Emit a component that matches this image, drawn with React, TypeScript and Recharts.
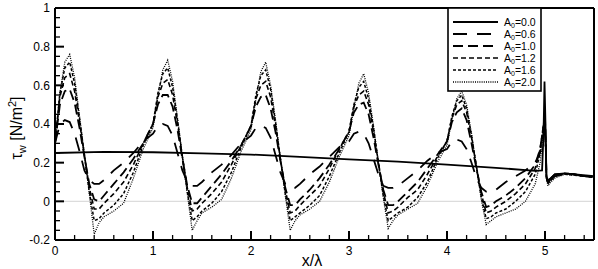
import React from 'react'
import { LineChart, Line, XAxis, YAxis, ReferenceLine } from 'recharts'

// x/lambda positions shared by the wavy series (A0 > 0)
const waveX = [
  0, 0.05, 0.1, 0.15, 0.2, 0.25, 0.3, 0.35, 0.4, 0.45, 0.5, 0.6, 0.7, 0.8, 0.9,
  1, 1.05, 1.1, 1.15, 1.2, 1.25, 1.3, 1.35, 1.4, 1.45, 1.5, 1.6, 1.7, 1.8, 1.9,
  2, 2.05, 2.1, 2.15, 2.2, 2.25, 2.3, 2.35, 2.4, 2.45, 2.5, 2.6, 2.7, 2.8, 2.9,
  3, 3.05, 3.1, 3.15, 3.2, 3.25, 3.3, 3.35, 3.4, 3.45, 3.5, 3.6, 3.7, 3.8, 3.9,
  4, 4.05, 4.1, 4.15, 4.2, 4.25, 4.3, 4.35, 4.4, 4.45, 4.5, 4.6, 4.7, 4.8, 4.9,
  4.95, 4.98, 5, 5.015, 5.03, 5.06, 5.1, 5.2, 5.3, 5.4, 5.5,
]

const a06 = [
  0.3, 0.4, 0.42, 0.41, 0.35, 0.26, 0.16, 0.11, 0.09, 0.09, 0.11, 0.16, 0.2, 0.25, 0.31,
  0.35, 0.39, 0.4, 0.39, 0.34, 0.25, 0.16, 0.1, 0.08, 0.08, 0.1, 0.15, 0.19, 0.24, 0.3,
  0.34, 0.38, 0.39, 0.38, 0.33, 0.24, 0.15, 0.09, 0.07, 0.07, 0.09, 0.14, 0.18, 0.23, 0.28,
  0.31, 0.35, 0.36, 0.35, 0.3, 0.22, 0.14, 0.08, 0.07, 0.07, 0.08, 0.12, 0.16, 0.21, 0.25,
  0.27, 0.31, 0.32, 0.31, 0.27, 0.2, 0.12, 0.07, 0.05, 0.05, 0.06, 0.1, 0.13, 0.16, 0.2,
  0.25, 0.33, 0.4, 0.13, 0.11, 0.12, 0.14, 0.145, 0.14, 0.13, 0.125,
]

const a10 = [
  0.3, 0.5, 0.57, 0.58, 0.51, 0.38, 0.23, 0.09, 0.01, 0.0, 0.03, 0.09, 0.15, 0.22, 0.3,
  0.4, 0.5, 0.55, 0.55, 0.49, 0.37, 0.22, 0.08, -0.01, -0.01, 0.02, 0.08, 0.14, 0.21, 0.29,
  0.39, 0.49, 0.54, 0.55, 0.48, 0.36, 0.21, 0.07, -0.02, -0.02, 0.01, 0.06, 0.12, 0.19, 0.27,
  0.36, 0.46, 0.5, 0.51, 0.45, 0.33, 0.19, 0.06, -0.02, -0.02, 0.0, 0.05, 0.1, 0.17, 0.24,
  0.31, 0.41, 0.46, 0.48, 0.42, 0.3, 0.17, 0.05, -0.03, -0.02, 0.0, 0.03, 0.07, 0.12, 0.19,
  0.27, 0.37, 0.44, 0.13, 0.1, 0.11, 0.13, 0.145, 0.14, 0.13, 0.125,
]

const a12 = [
  0.3, 0.54, 0.64, 0.66, 0.57, 0.41, 0.24, 0.07, -0.04, -0.04, -0.01, 0.04, 0.1, 0.19, 0.3,
  0.4, 0.54, 0.61, 0.63, 0.55, 0.4, 0.23, 0.07, -0.05, -0.04, -0.01, 0.04, 0.1, 0.19, 0.29,
  0.39, 0.53, 0.6, 0.62, 0.54, 0.39, 0.22, 0.06, -0.06, -0.05, -0.02, 0.03, 0.08, 0.17, 0.27,
  0.36, 0.49, 0.55, 0.57, 0.5, 0.36, 0.2, 0.05, -0.06, -0.05, -0.03, 0.02, 0.06, 0.14, 0.23,
  0.31, 0.43, 0.5, 0.52, 0.46, 0.33, 0.18, 0.04, -0.06, -0.05, -0.03, 0.0, 0.04, 0.09, 0.17,
  0.27, 0.38, 0.45, 0.13, 0.1, 0.11, 0.13, 0.145, 0.14, 0.13, 0.125,
]

const a16 = [
  0.3, 0.56, 0.69, 0.72, 0.61, 0.43, 0.24, 0.05, -0.1, -0.09, -0.06, -0.02, 0.04, 0.15, 0.29,
  0.4, 0.56, 0.66, 0.69, 0.59, 0.42, 0.23, 0.05, -0.1, -0.08, -0.05, -0.01, 0.05, 0.15, 0.28,
  0.39, 0.55, 0.65, 0.68, 0.58, 0.41, 0.22, 0.04, -0.1, -0.08, -0.06, -0.02, 0.03, 0.13, 0.25,
  0.36, 0.5, 0.59, 0.62, 0.53, 0.38, 0.2, 0.03, -0.1, -0.08, -0.06, -0.03, 0.02, 0.1, 0.22,
  0.31, 0.44, 0.52, 0.55, 0.48, 0.34, 0.18, 0.02, -0.09, -0.08, -0.06, -0.04, 0.0, 0.05, 0.14,
  0.25, 0.37, 0.44, 0.12, 0.09, 0.11, 0.13, 0.14, 0.135, 0.13, 0.125,
]

const a20 = [
  0.3, 0.56, 0.72, 0.76, 0.64, 0.44, 0.24, 0.04, -0.17, -0.11, -0.08, -0.05, -0.01, 0.12, 0.27,
  0.38, 0.54, 0.68, 0.73, 0.62, 0.43, 0.23, 0.04, -0.15, -0.1, -0.06, -0.03, 0.01, 0.12, 0.26,
  0.37, 0.53, 0.67, 0.72, 0.6, 0.42, 0.22, 0.03, -0.15, -0.1, -0.07, -0.04, 0.0, 0.1, 0.23,
  0.34, 0.48, 0.61, 0.66, 0.56, 0.39, 0.2, 0.02, -0.14, -0.1, -0.07, -0.04, -0.01, 0.08, 0.2,
  0.29, 0.42, 0.53, 0.57, 0.5, 0.35, 0.18, 0.01, -0.12, -0.1, -0.08, -0.06, -0.04, 0.0, 0.09,
  0.2, 0.34, 0.42, 0.12, 0.08, 0.1, 0.12, 0.14, 0.135, 0.13, 0.125,
]

// flat wall (A0 = 0) has its own x positions
const solidX = [0, 0.5, 1, 1.5, 2, 2.5, 3, 3.5, 4, 4.5, 4.9, 4.97, 4.985, 4.995, 5.005, 5.015, 5.03, 5.06, 5.1, 5.2, 5.5]
const a00 = [0.25, 0.256, 0.254, 0.248, 0.242, 0.23, 0.217, 0.205, 0.19, 0.173, 0.158, 0.16, 0.35, 0.62, 0.4, 0.12, 0.1, 0.12, 0.14, 0.145, 0.13]

const xTicks = [0, 1, 2, 3, 4, 5]
const xMinorTicks = [0.2, 0.4, 0.6, 0.8, 1.2, 1.4, 1.6, 1.8, 2.2, 2.4, 2.6, 2.8, 3.2, 3.4, 3.6, 3.8, 4.2, 4.4, 4.6, 4.8, 5.2, 5.4]
const yTicks = [-0.2, 0, 0.2, 0.4, 0.6, 0.8, 1]
const yMinorTicks = [-0.15, -0.1, -0.05, 0.05, 0.1, 0.15, 0.25, 0.3, 0.35, 0.45, 0.5, 0.55, 0.65, 0.7, 0.75, 0.85, 0.9, 0.95]

const legendLabels = ['0.0', '0.6', '1.0', '1.2', '1.6', '2.0']

const X_MIN = 0
const X_MAX = 5.5
const Y_MIN = -0.2
const Y_MAX = 1

// inward tick lengths, in axis units (about 9px major / 5px minor)
const X_MAJOR_LEN = 0.047
const X_MINOR_LEN = 0.026
const Y_MAJOR_LEN = 0.092
const Y_MINOR_LEN = 0.051

const font = '"Liberation Sans", Arial, sans-serif'

const toRows = (xs: number[], ys: number[]) => xs.map((x, i) => ({ x, y: ys[i] }))

const series = [
  { key: 'a00', rows: toRows(solidX, a00), dash: undefined, width: 1.8 },
  { key: 'a06', rows: toRows(waveX, a06), dash: '14 10', width: 1.8 },
  { key: 'a10', rows: toRows(waveX, a10), dash: '10 5', width: 1.8 },
  { key: 'a12', rows: toRows(waveX, a12), dash: '5 3', width: 1.6 },
  { key: 'a16', rows: toRows(waveX, a16), dash: '3 2', width: 1.5 },
  { key: 'a20', rows: toRows(waveX, a20), dash: '1 1.2', width: 1.3 },
]

function YTitle() {
  return (
    <text transform="translate(22,128) rotate(-90)" textAnchor="middle" fontSize={16} fontFamily={font} fill="#000">
      τ<tspan fontSize={11} dy={4}>w</tspan>
      <tspan dy={-4}> [N/m</tspan>
      <tspan fontSize={11} dy={-6}>2</tspan>
      <tspan dy={6}>]</tspan>
    </text>
  )
}

function XTitle() {
  return (
    <text x={312} y={266} textAnchor="middle" fontSize={16} fontFamily={font} fill="#000">
      x/λ
    </text>
  )
}

function LegendBox() {
  return (
    <svg width={95} height={85} style={{ position: 'absolute', left: 447, top: 7 }}>
      <rect x={1} y={1} width={93} height={83} fill="#fff" stroke="#000" strokeWidth={1.6} />
      {series.map((s, i) => {
        const y = 15 + i * 12
        return (
          <g key={s.key}>
            <line x1={6} x2={51} y1={y} y2={y} stroke="#000" strokeWidth={s.width} strokeDasharray={s.dash} />
            <text x={57} y={y + 4} fontSize={10.5} fontFamily={font} fill="#000">
              A<tspan fontSize={7} dy={2}>0</tspan>
              <tspan dy={-2}>={legendLabels[i]}</tspan>
            </text>
          </g>
        )
      })}
    </svg>
  )
}

export default function App() {
  return (
    <div style={{ position: 'fixed', left: 0, top: 0, width: 598, height: 269, background: '#fff' }}>
      <LineChart width={598} height={269} margin={{ top: 8, right: 4, bottom: 0, left: 0 }}>
        <XAxis
          type="number"
          dataKey="x"
          domain={[X_MIN, X_MAX]}
          allowDataOverflow
          ticks={xTicks}
          interval={0}
          tickSize={0}
          tickMargin={6}
          height={29}
          axisLine={{ stroke: '#000', strokeWidth: 2 }}
          tickLine={false}
          tick={{ fill: '#000', fontSize: 12, fontFamily: font }}
          label={<XTitle />}
        />
        <YAxis
          type="number"
          domain={[Y_MIN, Y_MAX]}
          allowDataOverflow
          ticks={yTicks}
          interval={0}
          tickSize={0}
          tickMargin={5}
          width={55}
          axisLine={{ stroke: '#000', strokeWidth: 2 }}
          tickLine={false}
          tick={{ fill: '#000', fontSize: 12, fontFamily: font }}
          label={<YTitle />}
        />
        <ReferenceLine y={0} stroke="#dcdcdc" strokeWidth={1.2} />
        {/* top and right frame */}
        <ReferenceLine y={Y_MAX} stroke="#000" strokeWidth={2} />
        <ReferenceLine x={X_MAX} stroke="#000" strokeWidth={2} />
        {xTicks.map((t) => (
          <ReferenceLine
            key={`xM${t}`}
            segment={[{ x: t, y: Y_MIN }, { x: t, y: Y_MIN + X_MAJOR_LEN }]}
            stroke="#000"
            strokeWidth={2}
          />
        ))}
        {xMinorTicks.map((t) => (
          <ReferenceLine
            key={`xm${t}`}
            segment={[{ x: t, y: Y_MIN }, { x: t, y: Y_MIN + X_MINOR_LEN }]}
            stroke="#000"
            strokeWidth={1.3}
          />
        ))}
        {yTicks.map((t) => (
          <ReferenceLine
            key={`yM${t}`}
            segment={[{ x: X_MIN, y: t }, { x: X_MIN + Y_MAJOR_LEN, y: t }]}
            stroke="#000"
            strokeWidth={2}
          />
        ))}
        {yMinorTicks.map((t) => (
          <ReferenceLine
            key={`ym${t}`}
            segment={[{ x: X_MIN, y: t }, { x: X_MIN + Y_MINOR_LEN, y: t }]}
            stroke="#000"
            strokeWidth={1.3}
          />
        ))}
        {series.map((s) => (
          <Line
            key={s.key}
            data={s.rows}
            dataKey="y"
            type="linear"
            stroke="#000"
            strokeWidth={s.width}
            strokeDasharray={s.dash}
            dot={false}
            activeDot={false}
            isAnimationActive={false}
          />
        ))}
      </LineChart>
      <LegendBox />
    </div>
  )
}
